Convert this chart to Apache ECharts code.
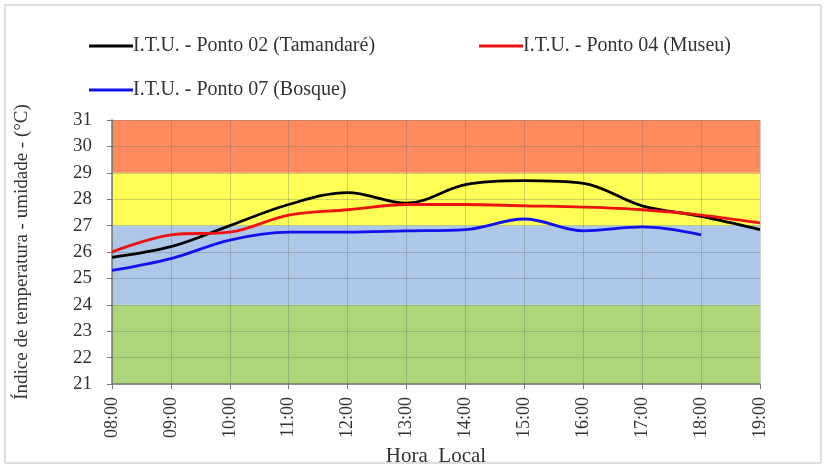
<!DOCTYPE html>
<html><head><meta charset="utf-8">
<script src="https://cdn.jsdelivr.net/npm/echarts@6/dist/echarts.min.js"></script>
<style>html,body{margin:0;padding:0;background:#fff}#c{width:827px;height:468px}</style>
</head><body><div id="c"></div>
<script>
const hours = ['08:00','09:00','10:00','11:00','12:00','13:00','14:00','15:00','16:00','17:00','18:00','19:00'];
const ponto02 = [25.8, 26.2, 27.0, 27.8, 28.25, 27.85, 28.55, 28.7, 28.6, 27.75, 27.35, 26.85];
const ponto04 = [26.0, 26.65, 26.75, 27.4, 27.6, 27.8, 27.8, 27.75, 27.7, 27.6, 27.4, 27.1];
const ponto07 = [25.3, 25.75, 26.45, 26.75, 26.75, 26.8, 26.85, 27.25, 26.8, 26.95, 26.65];
const yTicks = [21, 22, 23, 24, 25, 26, 27, 28, 29, 30, 31];
const names = ['I.T.U. - Ponto 02 (Tamandaré)','I.T.U. - Ponto 04 (Museu)','I.T.U. - Ponto 07 (Bosque)'];
const font = 'Liberation Serif, Times New Roman, serif';
// comfort-band colours per 1-unit interval from 21 to 31
const G='#acd677', B='#aec6e8', Y='#ffff55', O='#ff8a5e';
const bandColors = [G,G,G,B,B,B,Y,Y,O,O];
const chart = echarts.init(document.getElementById('c'));
function ser(name, data, color){
  return {name, type:'line', data, smooth:0.35, symbol:'none',
    lineStyle:{color, width:2.8}, itemStyle:{color}, z:3};
}
const legendText = {fontFamily:font, fontSize:20, color:'#333', padding:[0,0,0,-5]};
chart.setOption({
  animation:false,
  graphic:[{type:'rect', shape:{x:5,y:5,width:816,height:458}, style:{fill:'none', stroke:'#bbb', lineWidth:1}}],
  grid:{left:112, right:67, top:120, bottom:84, outerBoundsMode:'none', containLabel:false},
  legend:[
    {data:[names[0]], left:84, top:31, itemWidth:44, itemHeight:3, icon:'rect', textStyle:legendText},
    {data:[names[1]], left:474, top:31, itemWidth:44, itemHeight:3, icon:'rect', textStyle:legendText},
    {data:[names[2]], left:84, top:75, itemWidth:44, itemHeight:3, icon:'rect', textStyle:legendText}
  ],
  xAxis:{type:'category', data:hours, boundaryGap:false,
    name:'Hora  Local', nameLocation:'middle', nameGap:60,
    nameTextStyle:{fontFamily:font, fontSize:21, color:'#333'},
    axisLine:{lineStyle:{color:'#777', width:1.5}},
    axisTick:{show:true, length:5, lineStyle:{color:'#777'}},
    axisLabel:{rotate:90, fontFamily:font, fontSize:18, color:'#333', margin:13},
    splitLine:{show:true, lineStyle:{color:'#5e6e60', width:0.8, opacity:0.4}}},
  yAxis:{type:'value', min:21, max:31, interval:1,
    name:'Índice de temperatura - umidade - (°C)', nameLocation:'middle', nameGap:80,
    nameTextStyle:{fontFamily:font, fontSize:19, color:'#333'},
    axisLine:{show:true, lineStyle:{color:'#777', width:1.5}},
    axisTick:{show:true, length:5, lineStyle:{color:'#777'}},
    axisLabel:{fontFamily:font, fontSize:19, color:'#333', margin:20},
    splitArea:{show:true, areaStyle:{color:bandColors, opacity:1}},
    splitLine:{show:true, lineStyle:{color:'#5e6e60', width:0.8, opacity:0.4}}},
  series:[ser(names[0], ponto02, '#000000'), ser(names[1], ponto04, '#ee1111'), ser(names[2], ponto07, '#1111ee')]
});
</script></body></html>
